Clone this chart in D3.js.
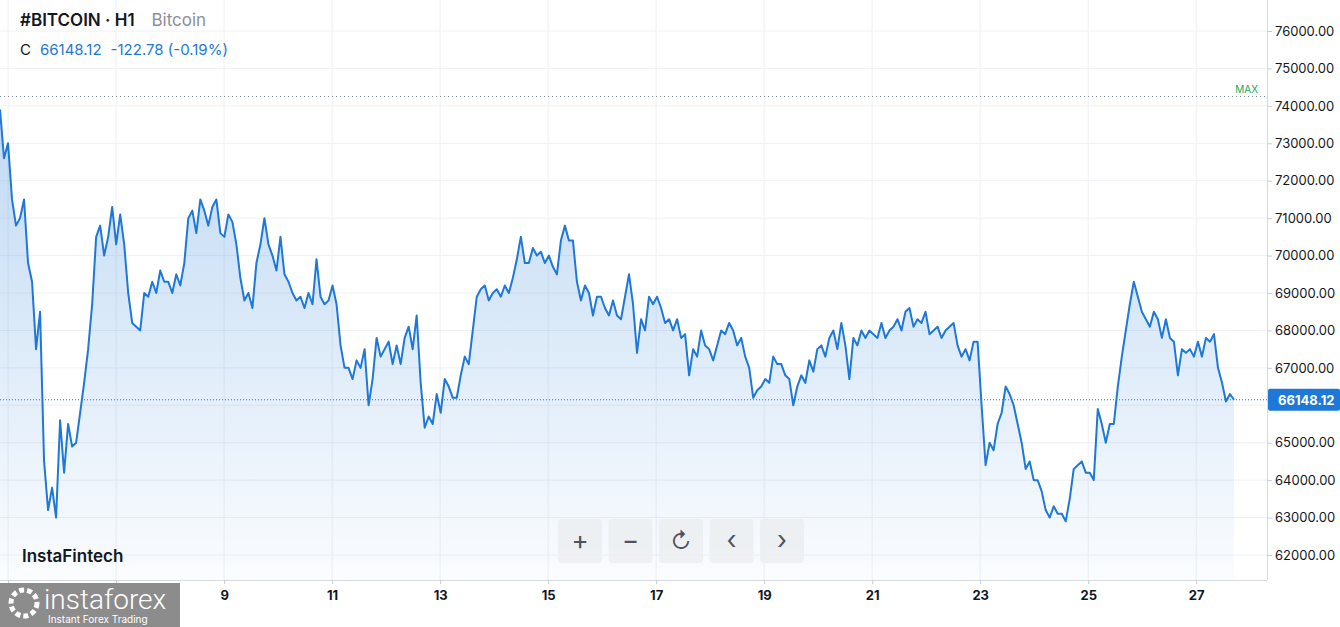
<!DOCTYPE html>
<html><head><meta charset="utf-8">
<script src="https://cdn.jsdelivr.net/npm/d3@7"></script>
<style>body{margin:0;background:#fff;font-family:Inter,"Noto Sans",sans-serif}</style>
</head><body><div id="chart"></div>
<script>
// hourly-ish close prices
var prices = [73900,72600,73000,71500,70800,71000,71500,69800,69300,67500,68500,64500,63200,63800,63000,65600,64200,65500,64900,65000,65800,66600,67500,68700,70500,70800,70000,70500,71300,70300,71100,70300,69000,68200,68100,68000,69000,68900,69300,69000,69600,69300,69300,69000,69500,69200,69800,71000,71200,70600,71500,71200,70800,71300,71500,70600,70500,71100,70900,70300,69400,68800,69000,68600,69800,70300,71000,70300,70000,69600,70500,69500,69300,69000,68800,68900,68600,69000,68700,69900,68900,68700,68800,69200,68700,67600,67000,67000,66700,67200,67000,67500,66000,66700,67800,67300,67500,67700,67100,67600,67100,67800,68100,67500,68400,66600,65400,65700,65500,66300,65800,66700,66500,66200,66200,66800,67300,67100,68000,68900,69100,69200,68800,69000,69100,68900,69200,69000,69400,69900,70500,69800,69800,70200,70000,70100,69800,70000,69700,69500,70400,70800,70400,70400,69300,68800,69200,69000,68400,68900,68900,68600,68400,68800,68400,68300,68900,69500,68700,67400,68300,68000,68900,68700,68900,68600,68200,68300,68000,68300,67800,67900,66800,67500,67300,68000,67600,67500,67200,67600,68000,67900,68200,68000,67600,67800,67300,67000,66200,66400,66500,66700,66600,67300,67100,67100,66800,66700,66000,66500,66800,66600,67200,66900,67500,67600,67300,67800,68000,67500,68200,67600,66700,67800,67600,68000,67800,68000,67900,67800,68200,67800,68000,68100,68300,68000,68500,68600,68100,68300,68200,68500,67900,68000,68100,67800,68000,68100,68200,67600,67300,67500,67200,67700,67700,66000,64400,65000,64800,65500,65800,66500,66300,66000,65500,65000,64300,64500,64000,64000,63700,63200,63000,63300,63100,63100,62900,63500,64300,64400,64500,64200,64200,64000,65900,65500,65000,65500,65500,66500,67300,68000,68700,69300,68900,68500,68300,68100,68500,68300,67800,68300,67800,67700,66800,67500,67400,67500,67300,67700,67300,67800,67700,67900,67000,66600,66100,66300,66148];
var firstDay = 4.85, lastDay = 27.7;
var dayTicks = [5,7,9,11,13,15,17,19,21,23,25,27];
var priceTicks = [62000,63000,64000,65000,66000,67000,68000,69000,70000,71000,72000,73000,74000,75000,76000];
var lastPrice = 66148.12, maxLevel = 74250;

var W = 1340, H = 627, plotR = 1267, plotB = 580;
var svg = d3.select("#chart").append("svg").attr("width", W).attr("height", H);

var x = d3.scaleLinear().domain([firstDay, lastDay]).range([0, 1234]);
var y = d3.scaleLinear().domain([62000, 76000]).range([555, 31]);
var idx = d3.scaleLinear().domain([0, prices.length - 1]).range([firstDay, lastDay]);

// grid
svg.append("g").selectAll("line").data(dayTicks).enter().append("line")
  .attr("x1", d => x(d)).attr("x2", d => x(d)).attr("y1", 0).attr("y2", plotB)
  .attr("stroke", "#eef0f3");
svg.append("g").selectAll("line").data(priceTicks).enter().append("line")
  .attr("x1", 0).attr("x2", plotR).attr("y1", d => y(d)).attr("y2", d => y(d))
  .attr("stroke", "#eef0f3");

var grad = svg.append("defs").append("linearGradient").attr("id", "fill")
  .attr("x1", 0).attr("y1", 0).attr("x2", 0).attr("y2", 1);
grad.append("stop").attr("offset", "0%").attr("stop-color", "#1e78d7").attr("stop-opacity", 0.28);
grad.append("stop").attr("offset", "100%").attr("stop-color", "#1e78d7").attr("stop-opacity", 0.02);

var area = d3.area().x((d, i) => x(idx(i))).y0(plotB).y1(d => y(d));
var line = d3.line().x((d, i) => x(idx(i))).y(d => y(d));
svg.append("path").datum(prices).attr("d", area).attr("fill", "url(#fill)");
svg.append("path").datum(prices).attr("d", line).attr("fill", "none")
  .attr("stroke", "#1e78d7").attr("stroke-width", 2).attr("stroke-linejoin", "round");

// max and last price lines
svg.append("line").attr("x1", 0).attr("x2", plotR).attr("y1", y(maxLevel)).attr("y2", y(maxLevel))
  .attr("stroke", "#7f8a99").attr("stroke-dasharray", "1,3");
svg.append("text").text("MAX").attr("x", 1258).attr("y", y(maxLevel) - 4).attr("text-anchor", "end")
  .attr("font-size", 10).attr("fill", "#26a65b");
svg.append("line").attr("x1", 0).attr("x2", plotR).attr("y1", y(lastPrice)).attr("y2", y(lastPrice))
  .attr("stroke", "#1e78d7").attr("stroke-dasharray", "1,2");

// axes
svg.append("line").attr("x1", plotR + 0.5).attr("x2", plotR + 0.5).attr("y1", 0).attr("y2", plotB).attr("stroke", "#d6dae0");
svg.append("line").attr("x1", 0).attr("x2", plotR).attr("y1", plotB + 0.5).attr("y2", plotB + 0.5).attr("stroke", "#d6dae0");
var ya = svg.append("g").attr("transform", "translate(" + plotR + ",0)")
  .call(d3.axisRight(y).tickValues(priceTicks.filter(d => Math.abs(y(d) - y(lastPrice)) > 14))
    .tickFormat(d3.format(".2f")).tickSize(5));
ya.select(".domain").remove();
ya.selectAll("line").attr("stroke", "#c8cdd4");
ya.selectAll("text").attr("font-size", 13).attr("fill", "#131722").attr("font-family", "Inter,sans-serif");
var xa = svg.append("g").attr("transform", "translate(0," + plotB + ")")
  .call(d3.axisBottom(x).tickValues(dayTicks).tickFormat(d3.format("d")).tickSize(4));
xa.select(".domain").remove();
xa.selectAll("line").attr("stroke", "#c8cdd4");
xa.selectAll("text").attr("font-size", 13).attr("font-weight", "bold").attr("fill", "#131722").attr("dy", "1em")
  .attr("font-family", "Inter,sans-serif");

// last price tag
svg.append("rect").attr("x", plotR + 1).attr("y", y(lastPrice) - 11).attr("width", 72).attr("height", 22)
  .attr("rx", 2).attr("fill", "#1e78d7");
svg.append("text").text(d3.format(".2f")(lastPrice)).attr("x", plotR + 11).attr("y", y(lastPrice) + 5)
  .attr("font-size", 13).attr("font-weight", "bold").attr("fill", "#fff");

// header
var hd = svg.append("text").attr("x", 20).attr("y", 26).attr("font-size", 17);
hd.append("tspan").text("#BITCOIN · H1").attr("fill", "#131722").attr("font-weight", 600);
hd.append("tspan").text("  Bitcoin").attr("fill", "#8a8f98").attr("dx", 12);
var hc = svg.append("text").attr("x", 20).attr("y", 55).attr("font-size", 15);
hc.append("tspan").text("C").attr("fill", "#131722");
hc.append("tspan").text("66148.12").attr("fill", "#1e78d7").attr("dx", 9);
hc.append("tspan").text("-122.78 (-0.19%)").attr("fill", "#1e78d7").attr("dx", 9);

svg.append("text").text("InstaFintech").attr("x", 22).attr("y", 562).attr("font-size", 17)
  .attr("font-weight", 600).attr("fill", "#131722");

// zoom buttons
var btns = ["+", "−", "↻", "‹", "›"];
var bg = svg.append("g").selectAll("g").data(btns).enter().append("g")
  .attr("transform", (d, i) => "translate(" + (558 + i * 50.5) + ",519)");
bg.append("rect").attr("width", 44).attr("height", 44).attr("rx", 4).attr("fill", "#eceef1").attr("opacity", 0.9);
bg.append("text").text(d => d).attr("x", 22).attr("y", 30).attr("text-anchor", "middle")
  .attr("font-size", d => d === "↻" ? 22 : 26).attr("fill", "#50535e");

// watermark logo
svg.append("rect").attr("x", 0).attr("y", 583).attr("width", 180).attr("height", 44).attr("fill", "#8c8c8c");
svg.append("circle").attr("cx", 24).attr("cy", 603).attr("r", 13).attr("fill", "none")
  .attr("stroke", "#fff").attr("stroke-width", 5).attr("stroke-dasharray", "5,3");
svg.append("text").text("instaforex").attr("x", 44).attr("y", 609).attr("font-size", 28)
  .attr("fill", "#fff").attr("font-family", "Roboto,sans-serif").attr("font-weight", 300);
svg.append("text").text("Instant Forex Trading").attr("x", 48).attr("y", 623).attr("font-size", 10)
  .attr("fill", "#fff");
</script></body></html>
